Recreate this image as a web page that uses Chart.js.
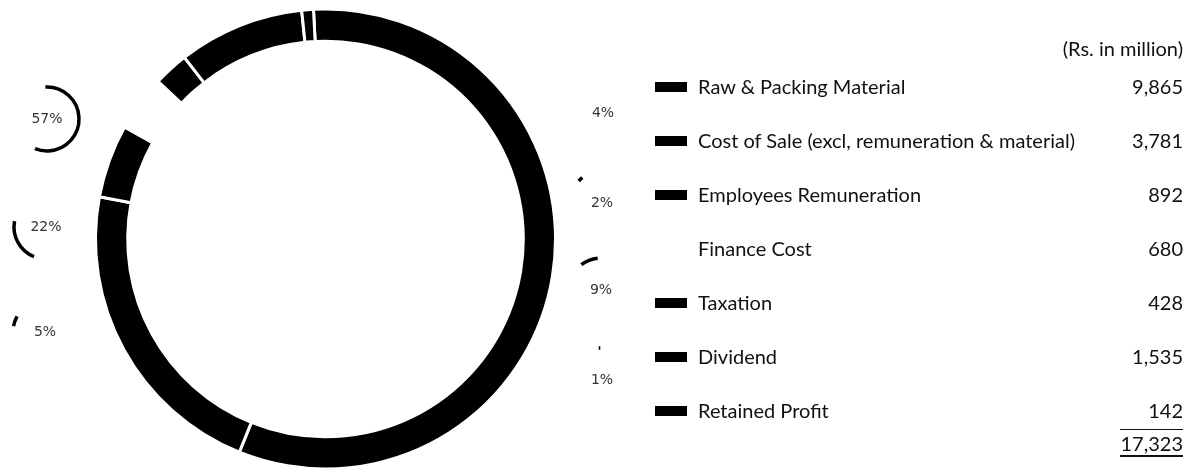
<!DOCTYPE html>
<html>
<head>
<meta charset="utf-8">
<script src="https://cdn.jsdelivr.net/npm/chart.js@4.4.1/dist/chart.umd.min.js"></script>
<style>
  body { margin:0; width:1186px; height:470px; overflow:hidden; background:#fff; font-family:Lato, "Liberation Sans", sans-serif; color:#111; }
  #chartBox { position:absolute; left:0; top:0; width:640px; height:470px; }
  #legend { position:absolute; left:0; top:0; width:1186px; height:470px; }
  .row { position:absolute; left:0; width:1183px; height:24px; line-height:24px; font-size:20px; }
  .sw { position:absolute; left:655px; top:8px; width:32px; height:10px; }
  .lab { position:absolute; left:698px; top:0; white-space:nowrap; }
  .val { position:absolute; right:0; top:0; }
  .tot { border-top:1px solid #111; border-bottom:2px solid #111; line-height:24px; padding:1px 0 0 0; }
</style>
</head>
<body>
<div id="chartBox"><canvas id="myChart" width="640" height="470"></canvas></div>
<div id="legend"></div>
<script>
// data
var labels = ['Raw & Packing Material', 'Cost of Sale (excl, remuneration & material)', 'Employees Remuneration',
              'Finance Cost', 'Taxation', 'Dividend', 'Retained Profit'];
var amounts = [9865, 3781, 892, 680, 428, 1535, 142];
var colors = ['#000000', '#000000', '#000000', '#ffffff', '#000000', '#000000', '#000000'];
var unitLabel = '(Rs. in million)';

var total = amounts.reduce(function(a, b){ return a + b; }, 0);
var pct = amounts.map(function(v){ return Math.round(v / total * 100) + '%'; });

// where each small percentage badge sits (text centre)
var badgePos = [[47,119],[46,227],[45,332],[603,113],[602,203],[601,290],[602,380]];
var ROT = -3;

var badges = {
  id: 'badges',
  afterDraw: function(chart){
    var ctx = chart.ctx;
    var start = ROT;
    ctx.save();
    amounts.forEach(function(v, i){
      var sweep = v / total * 360;
      var a0 = (start - 90) * Math.PI / 180;
      var a1 = (start + sweep - 90) * Math.PI / 180;
      var p = badgePos[i];
      ctx.beginPath();
      ctx.strokeStyle = colors[i];
      ctx.lineWidth = 3.5;
      ctx.arc(p[0], p[1], 32, a0, a1);
      ctx.stroke();
      ctx.fillStyle = '#333';
      ctx.font = '14px "DejaVu Sans"';
      ctx.textAlign = 'center';
      ctx.textBaseline = 'middle';
      ctx.fillText(pct[i], p[0], p[1]);
      start += sweep;
    });
    ctx.restore();
  }
};

var ctx1 = document.getElementById('myChart').getContext('2d');
var myDoughnut = new Chart(ctx1, {
  type: 'doughnut',
  data: {
    labels: labels,
    datasets: [{
      data: amounts,
      backgroundColor: colors,
      borderColor: '#ffffff',
      borderWidth: 3,
      hoverOffset: 0
    }]
  },
  options: {
    responsive: false,
    animation: false,
    rotation: ROT,
    radius: 230,
    cutout: '86%',
    layout: { padding: { left: 90, right: 79, top: 8, bottom: 0 } },
    plugins: { legend: { display: false }, tooltip: { enabled: false } }
  },
  plugins: [badges]
});

// table legend on the right
var legend = document.getElementById('legend');
function addRow(y, swColor, text, value, extraClass){
  var row = document.createElement('div');
  row.className = 'row';
  row.style.top = (y - 12) + 'px';
  if (swColor) {
    var sw = document.createElement('div');
    sw.className = 'sw';
    sw.style.background = swColor;
    row.appendChild(sw);
  }
  if (text) {
    var lab = document.createElement('div');
    lab.className = 'lab';
    lab.textContent = text;
    row.appendChild(lab);
  }
  var val = document.createElement('div');
  val.className = 'val' + (extraClass ? ' ' + extraClass : '');
  val.textContent = value;
  row.appendChild(val);
  legend.appendChild(row);
}
addRow(48, null, null, unitLabel);
labels.forEach(function(lab, i){
  addRow(86 + i * 54, colors[i], lab, amounts[i].toLocaleString('en-US'));
});
addRow(441, null, null, total.toLocaleString('en-US'), 'tot');
</script>
</body>
</html>
